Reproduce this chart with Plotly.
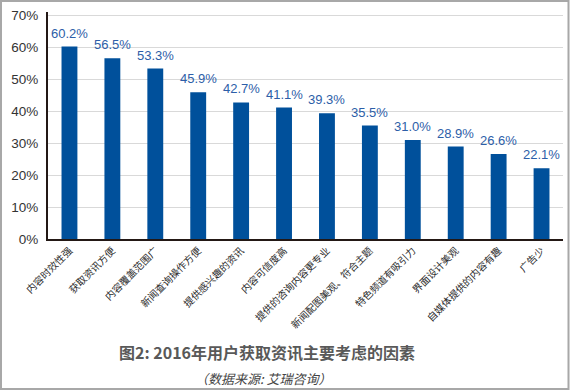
import plotly.graph_objects as go

categories = ["内容时效性强", "获取资讯方便", "内容覆盖范围广", "新闻查询操作方便", "提供感兴趣的资讯",
              "内容可信度高", "提供的咨询内容更专业", "新闻配图美观、符合主题", "特色频道有吸引力",
              "界面设计美观", "自媒体提供的内容有趣", "广告少"]
values = [60.2, 56.5, 53.3, 45.9, 42.7, 41.1, 39.3, 35.5, 31.0, 28.9, 26.6, 22.1]
y_ticks = [0, 10, 20, 30, 40, 50, 60, 70]
y_tick_labels = [f"{v}%" for v in y_ticks]
title = "图2: 2016年用户获取资讯主要考虑的因素"
subtitle = "（数据来源: 艾瑞咨询）"

W, H = 570, 391
L, R, T, B = 48, 7, 12, 152
pw, ph = W - L - R, H - T - B

def px_x(p):
    return (p - L) / pw

def px_y(p):
    return (H - B - p) / ph

FONT = "Liberation Sans, Arial, Noto Sans CJK SC, sans-serif"

fig = go.Figure(go.Bar(
    x=categories, y=values,
    marker=dict(color="#00509b", line=dict(width=0)),
    hoverinfo="skip",
))

value_annotations = [
    dict(x=c, y=v, xref="x", yref="y", text=f"{v:.1f}%", showarrow=False,
         xanchor="center", yanchor="bottom", yshift=4,
         font=dict(color="#2d5ea8", size=13, family=FONT))
    for c, v in zip(categories, values)
]

fig.update_layout(
    width=W, height=H,
    margin=dict(l=L, r=R, t=T, b=B, autoexpand=False),
    paper_bgcolor="white", plot_bgcolor="white",
    bargap=0.63,
    showlegend=False,
    font=dict(family=FONT, color="#333333"),
    xaxis=dict(
        tickangle=-45, tickfont=dict(size=10, color="#2b2b2b", family="Noto Sans CJK SC, sans-serif"),
        showline=True, linecolor="#231815", linewidth=2,
        showgrid=False, ticks="", automargin=False,
    ),
    yaxis=dict(
        range=[0, 71], tickvals=y_ticks, ticktext=y_tick_labels,
        tickfont=dict(size=13.5, color="#333333"),
        showline=True, linecolor="#231815", linewidth=2,
        showgrid=True, gridcolor="#d9d9d9", gridwidth=1,
        zeroline=False, ticks="", ticklabelstandoff=5, automargin=False,
    ),
    shapes=[dict(type="rect", xref="paper", yref="paper",
                 x0=px_x(1), x1=px_x(568.5), y0=px_y(389), y1=px_y(1),
                 line=dict(color="#a8a8a8", width=2), fillcolor="rgba(0,0,0,0)", layer="above")],
    annotations=value_annotations + [
        dict(text=f"<b>{title}</b>", xref="paper", yref="paper", x=px_x(267), y=px_y(352),
             showarrow=False, xanchor="center", yanchor="middle",
             font=dict(size=16, color="#595959", family="Noto Sans CJK SC, sans-serif")),
        dict(text=f"<i>{subtitle}</i>", xref="paper", yref="paper", x=px_x(263), y=px_y(378),
             showarrow=False, xanchor="center", yanchor="middle",
             font=dict(size=13, color="#444444", family="Noto Sans CJK SC, sans-serif")),
    ],
)

fig.write_html("out.html", config={"displayModeBar": False},
               post_script="document.body.style.margin='0';")
